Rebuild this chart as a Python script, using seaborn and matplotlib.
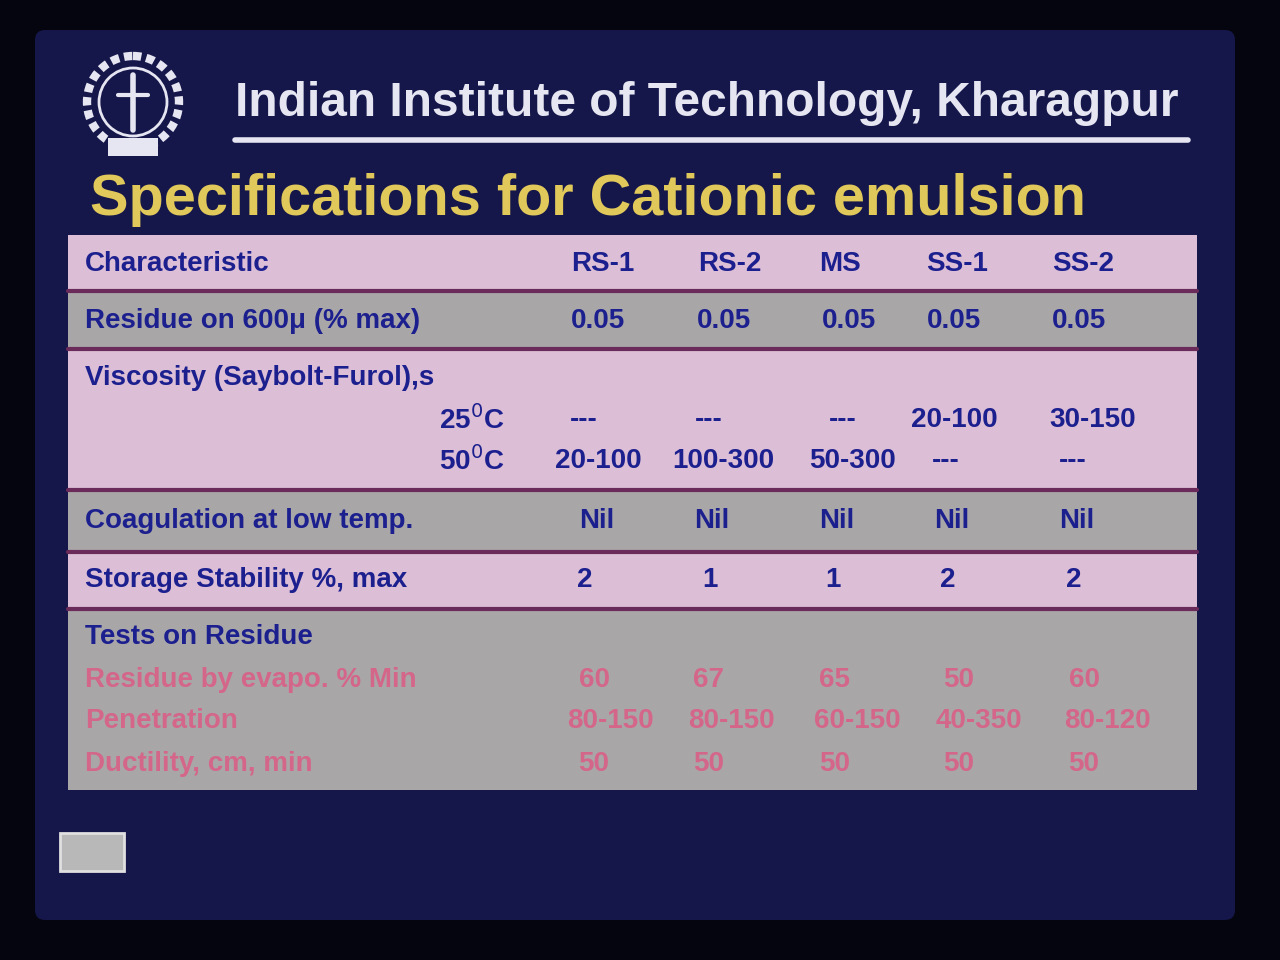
import numpy as np
import matplotlib.pyplot as plt
import matplotlib.patches as patches
import seaborn as sns

sns.set_style("white")
plt.rcParams['font.family'] = ['Liberation Sans', 'DejaVu Sans']

# --- data ---
grades = ['RS-1', 'RS-2', 'MS', 'SS-1', 'SS-2']
residue_600 = ['0.05', '0.05', '0.05', '0.05', '0.05']
visc_25 = ['---', '---', '---', '20-100', '30-150']
visc_50 = ['20-100', '100-300', '50-300', '---', '---']
coagulation = ['Nil', 'Nil', 'Nil', 'Nil', 'Nil']
storage = ['2', '1', '1', '2', '2']
residue_evap = ['60', '67', '65', '50', '60']
penetration = ['80-150', '80-150', '60-150', '40-350', '80-120']
ductility = ['50', '50', '50', '50', '50']

NAVY = '#1c1f8e'
PINK = '#dcbfd6'
GREY = '#a9a6a8'
RED = '#d4668a'

fig = plt.figure(figsize=(12.8, 9.6), dpi=100)
fig.patch.set_facecolor('#050510')
ax = fig.add_axes([0, 0, 1, 1])
ax.set_xlim(0, 1280)
ax.set_ylim(960, 0)
ax.axis('off')

# slide background
ax.add_patch(patches.FancyBboxPatch((45, 40), 1180, 870, boxstyle='round,pad=10',
                                    fc='#15164a', ec='none'))

# header
ax.text(235, 103, 'Indian Institute of Technology, Kharagpur', color='#e6e6f2',
        fontsize=34.5, fontweight='bold', va='center')
ax.plot([235, 1188], [140, 140], color='#e6e6f2', lw=4)
# emblem
ax.add_patch(patches.Circle((133, 102), 46, fc='none', ec='#e6e6f2', lw=6, ls=(0, (1, 0.6))))
ax.add_patch(patches.Circle((133, 102), 34, fc='#15164a', ec='#e6e6f2', lw=2))
ax.plot([133, 133], [75, 130], color='#e6e6f2', lw=4)
ax.plot([118, 148], [95, 95], color='#e6e6f2', lw=3)
ax.add_patch(patches.Rectangle((108, 138), 50, 18, fc='#e6e6f2', ec='none'))

ax.text(90, 200, 'Specifications for Cationic emulsion', color='#e0c85a',
        fontsize=41.5, fontweight='bold', va='center')

# row bands
bands = [(235, 290, PINK), (292, 347, GREY), (350, 488, PINK),
         (492, 550, GREY), (553, 607, PINK), (610, 790, GREY)]
for y0, y1, c in bands:
    ax.add_patch(patches.Rectangle((68, y0), 1129, y1 - y0, fc=c, ec='none'))
for y in [291, 348.5, 490, 551.5, 608.5]:
    ax.plot([68, 1197], [y, y], color='#6a2a5a', lw=3)

cols = np.array([600, 727, 845, 955, 1080])
fs = 20

def row(label, vals, y, color=NAVY, xs=cols):
    if label:
        ax.text(85, y, label, color=color, fontsize=fs, fontweight='bold', va='center')
    for x, v in zip(xs, vals):
        ax.text(x, y, v, color=color, fontsize=fs, fontweight='bold', va='center', ha='center')

row('Characteristic', grades, 264, xs=[603, 730, 840, 957, 1083])
row('Residue on 600\u03bc (% max)', residue_600, 321, xs=[598, 724, 849, 954, 1079])
ax.text(85, 378, 'Viscosity (Saybolt-Furol),s', color=NAVY, fontsize=fs,
        fontweight='bold', va='center')
ax.text(505, 420, '25$^0$C', color=NAVY, fontsize=fs, fontweight='bold', va='center', ha='right')
ax.text(505, 461, '50$^0$C', color=NAVY, fontsize=fs, fontweight='bold', va='center', ha='right')
row(None, visc_25, 420, xs=[584, 709, 843, 954, 1093])
row(None, visc_50, 461, xs=[598, 723, 853, 946, 1073])
row('Coagulation at low temp.', coagulation, 521, xs=[597, 712, 837, 952, 1077])
row('Storage Stability %, max', storage, 580, xs=[585, 710, 833, 948, 1074])
ax.text(85, 637, 'Tests on Residue', color=NAVY, fontsize=fs, fontweight='bold', va='center')
row('Residue by evapo. % Min', residue_evap, 680, color=RED, xs=[594, 709, 835, 959, 1084])
row('Penetration', penetration, 721, color=RED, xs=[610, 731, 857, 979, 1107])
row('Ductility, cm, min', ductility, 764, color=RED, xs=[594, 709, 835, 959, 1084])

# small button
ax.add_patch(patches.Rectangle((60, 833), 64, 38, fc='#b8b8b8', ec='#e0e0e0', lw=2))

fig.savefig('out.png', dpi=100, facecolor=fig.get_facecolor())
